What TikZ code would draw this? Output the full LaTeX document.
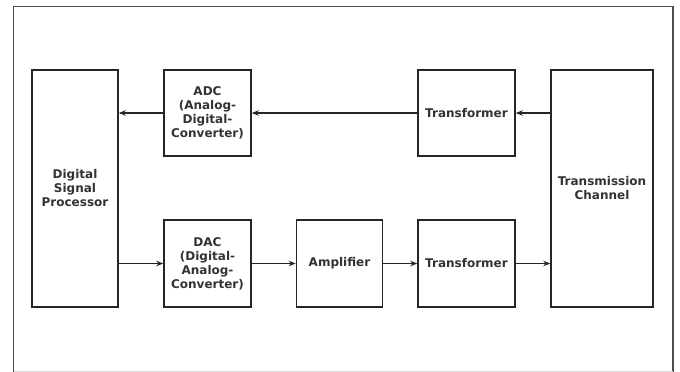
\documentclass[tikz,border=0pt]{standalone}
\usepackage{fontspec}
\setmainfont{DejaVu Sans}
\usepackage{tikz}
\usetikzlibrary{arrows.meta,calc}
\usetikzlibrary{positioning}

\begin{document}
\begin{tikzpicture}[x=1pt,y=-1pt,
        blk/.style={draw=black!85, line width=1.5pt, fill=white, align=center,
            font=\fontsize{12}{14}\selectfont\bfseries, text=black!80,
            inner sep=0pt, minimum width=86pt, minimum height=86pt},
        conn/.style={draw=black!85, line width=1.1pt, -{Stealth[length=7pt,width=5.5pt]}}]
                \useasboundingbox (0,0) rectangle (680,372);
                % frame
                \draw[color=black!70, line width=1.2pt] (13.5,372) -- (13.5,6.5) -- (673,6.5) -- (673,372);
                \draw[color=black!15, line width=0.8pt] (13.5,371) -- (673,371);
                % blocks
                \node[blk, minimum height=237pt] (dsp) at (75,188.5) {Digital\\Signal\\Processor};
                \node[blk, minimum width=87pt] (adc) at (207.5,113) {ADC\\(Analog-\\Digital-\\Converter)};
                \node[blk, minimum width=87pt, minimum height=87pt] (dac) at (207.5,263.5) {DAC\\(Digital-\\Analog-\\Converter)};
                \node[blk, minimum height=87pt] (amp) at (339.5,263.5) {Amplifier};
                \node[blk, minimum width=97pt] (trtop) at (466.5,113) {Transformer};
                \node[blk, minimum width=97pt, minimum height=87pt] (trbot) at (466.5,263.5) {Transformer};
                \node[blk, minimum width=102pt, minimum height=237pt] (chan) at (602,188.5) {Transmission\\Channel};
                % receive path
                \draw[conn] (chan.west |- trtop) -- (trtop);
                \draw[conn] (trtop) -- (adc);
                \draw[conn] (adc) -- (adc -| dsp.east);
                % send path
                \draw[conn] (dsp.east |- dac) -- (dac);
                \draw[conn] (dac) -- (amp);
                \draw[conn] (amp) -- (trbot);
                \draw[conn] (trbot) -- (trbot -| chan.west);
            \end{tikzpicture}
\end{document}
